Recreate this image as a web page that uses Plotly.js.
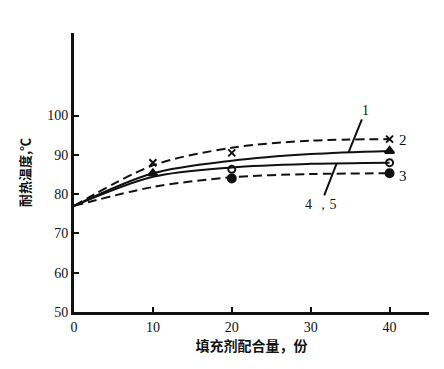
<!DOCTYPE html>
<html><head><meta charset="utf-8">
<script src="https://cdn.plot.ly/plotly-3.0.1.min.js"></script>
<style>html,body{margin:0;padding:0;background:#fff}#c{width:444px;height:369px}</style>
</head><body><div id="c"></div>
<script>
const fillerParts = [0, 10, 20, 30, 40];
const curve1 = [77, 85.3, 88.5, 90.2, 91];
const curve2 = [77, 87.3, 91.8, 93.6, 94];
const curve3 = [77, 81.8, 84.3, 85.1, 85.3];
const curve45 = [77, 84.4, 86.8, 87.7, 88];
const mark2X = [10, 20, 40], mark2Y = [88, 90.5, 94];
const mark1X = [10, 40], mark1Y = [85.3, 91];
const mark45X = [20, 40], mark45Y = [86.3, 88];
const mark3X = [20, 40], mark3Y = [84, 85.3];
const xTicks = [0, 10, 20, 30, 40];
const yTicks = [50, 60, 70, 80, 90, 100];
const seriesLabels = ['1', '2', '3', '4 ，5'];

const K = '#111';
const ln = (y, dash) => ({x: fillerParts, y: y, mode: 'lines', line: {color: K, width: 2, dash: dash, shape: 'spline', smoothing: 0.9}, hoverinfo: 'skip'});
const mk = (x, y, sym, size) => ({x: x, y: y, mode: 'markers', marker: {color: K, symbol: sym, size: size, line: {color: K, width: 2}}, hoverinfo: 'skip'});

const data = [
  ln(curve2, '9px,5px'),
  ln(curve1, 'solid'),
  ln(curve45, 'solid'),
  ln(curve3, '9px,5px'),
  mk(mark2X, mark2Y, 'x-thin', 7),
  mk(mark1X, mark1Y, 'triangle-up', 8),
  mk(mark45X, mark45Y, 'circle-open', 7),
  mk(mark3X, mark3Y, 'circle', 8)
];

const serif = "'Liberation Serif', 'DejaVu Serif', serif";
const cjk = "'Noto Sans CJK SC', sans-serif";

const layout = {
  width: 444, height: 369,
  margin: {l: 74, r: 15, t: 33, b: 57},
  paper_bgcolor: '#fff', plot_bgcolor: '#fff',
  showlegend: false,
  font: {family: serif, color: K, size: 13},
  xaxis: {
    range: [0, 45], tickvals: xTicks, ticktext: xTicks.map(String),
    showgrid: false, zeroline: false, showline: true, linecolor: K, linewidth: 3,
    ticks: 'inside', ticklen: 5, tickwidth: 2, tickcolor: K,
    tickfont: {family: serif, size: 14, color: K},
    title: {text: '<b>填充剂配合量，份</b>', font: {family: cjk, size: 14, color: K}, standoff: 8}
  },
  yaxis: {
    range: [50, 121], tickvals: yTicks, ticktext: yTicks.map(String),
    showgrid: false, zeroline: false, showline: true, linecolor: K, linewidth: 3,
    ticks: 'inside', ticklen: 5, tickwidth: 2, tickcolor: K,
    tickfont: {family: serif, size: 14, color: K},
    title: {text: '<b>耐热温度,℃</b>', font: {family: cjk, size: 13, color: K}, standoff: 14}
  },
  annotations: [
    {x: 34.8, y: 90.6, text: seriesLabels[0], showarrow: true, arrowhead: 0, arrowwidth: 2, arrowcolor: K, ax: 17, ay: -42, font: {family: serif, size: 14, color: K}},
    {x: 41.0, y: 93.8, text: seriesLabels[1], showarrow: false, xanchor: 'left', font: {family: serif, size: 15, color: K}},
    {x: 41.0, y: 84.6, text: seriesLabels[2], showarrow: false, xanchor: 'left', font: {family: serif, size: 15, color: K}},
    {x: 33.3, y: 87.8, text: seriesLabels[3], showarrow: true, arrowhead: 0, arrowwidth: 2, arrowcolor: K, ax: -16, ay: 41, font: {family: serif, size: 14, color: K}}
  ]
};
Plotly.newPlot('c', data, layout, {staticPlot: true, displayModeBar: false});
</script></body></html>
